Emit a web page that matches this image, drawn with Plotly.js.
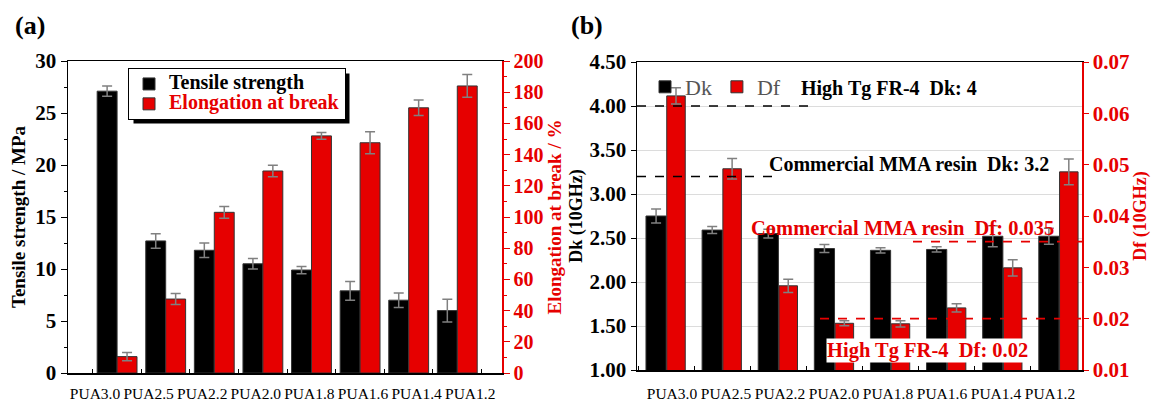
<!DOCTYPE html>
<html><head><meta charset="utf-8">
<script src="https://cdn.plot.ly/plotly-3.0.1.min.js"></script>
<style>html,body{margin:0;padding:0;background:#fff}#chart{width:1155px;height:401px}</style>
</head><body><div id="chart"></div>
<script>
const categories = ['PUA3.0','PUA2.5','PUA2.2','PUA2.0','PUA1.8','PUA1.6','PUA1.4','PUA1.2'];
const tensileStrength = [27.1, 12.7, 11.8, 10.5, 9.9, 7.9, 7.0, 6.0];
const tensileErr = [0.5, 0.7, 0.7, 0.5, 0.35, 0.9, 0.7, 1.1];
const elongation = [10.5, 47.4, 103, 129.5, 152, 147.6, 170, 184];
const elongationErr = [2.7, 3.5, 3.8, 3.7, 2.2, 7, 5, 7.3];
const dk = [2.75, 2.59, 2.55, 2.38, 2.36, 2.37, 2.52, 2.52];
const dkErr = [0.08, 0.04, 0.05, 0.045, 0.03, 0.03, 0.12, 0.09];
const df = [0.0634, 0.0492, 0.0264, 0.0191, 0.019, 0.0221, 0.0299, 0.0486];
const dfErr = [0.0016, 0.002, 0.0013, 0.0005, 0.0006, 0.0008, 0.0016, 0.0025];
const dkRefValues = [4.0, 3.2];
const dkRefLabels = ['High Tg FR-4\u00a0\u00a0Dk: 4', 'Commercial MMA resin\u00a0\u00a0Dk: 3.2'];
const dfRefValues = [0.035, 0.02];
const dfRefLabels = ['Commercial MMA resin\u00a0\u00a0Df: 0.035', 'High Tg FR-4\u00a0\u00a0Df: 0.02'];
const panelLabels = ['(a)', '(b)'];
const seriesNamesA = ['Tensile strength', 'Elongation at break'];
const seriesNamesB = ['Dk', 'Df'];

const W = 1155, H = 401;
const px = x => x / W, py = y => 1 - y / H;
const SERIF = 'Liberation Serif';
const RED = '#e60000';
const idx = categories.map((_, i) => i);
const bounds = [-0.5, 0.5, 1.5, 2.5, 3.5, 4.5, 5.5, 6.5, 7.5];

function errBar(arr) {
  return {type: 'data', array: arr, visible: true, color: '#808080', thickness: 1.5, width: 5};
}
const legendName = (txt, color) => '<span style="font-size:20px;color:' + color + '">' + txt + '</span>';

const traces = [
  {type: 'bar', x: idx, y: tensileStrength, xaxis: 'x', yaxis: 'y', width: 0.41, offset: -0.41,
   marker: {color: '#000', line: {color: '#333', width: 1}}, error_y: errBar(tensileErr),
   name: legendName(seriesNamesA[0], '#000'), legend: 'legend'},
  {type: 'bar', x: idx, y: elongation, xaxis: 'x', yaxis: 'y2', width: 0.41, offset: 0,
   marker: {color: RED, line: {color: '#333', width: 1}}, error_y: errBar(elongationErr),
   name: legendName(seriesNamesA[1], RED), legend: 'legend'},
  {type: 'bar', x: idx, y: dk, xaxis: 'x2', yaxis: 'y3', width: 0.36, offset: -0.36,
   marker: {color: '#000', line: {color: '#333', width: 1}}, error_y: errBar(dkErr),
   name: seriesNamesB[0], legend: 'legend2'},
  {type: 'bar', x: idx, y: df, xaxis: 'x2', yaxis: 'y4', width: 0.33, offset: 0.01,
   marker: {color: RED, line: {color: '#333', width: 1}}, error_y: errBar(dfErr),
   name: seriesNamesB[1], legend: 'legend2'},
  {type: 'scatter', x: [], y: [], xaxis: 'x3', yaxis: 'y', showlegend: false, hoverinfo: 'skip'},
  {type: 'scatter', x: [], y: [], xaxis: 'x4', yaxis: 'y3', showlegend: false, hoverinfo: 'skip'}
];

const tickBold = (size, color) => ({family: SERIF, size: size, color: color, weight: 'bold'});

const layout = {
  width: W, height: H,
  margin: {l: 0, r: 0, t: 0, b: 0},
  paper_bgcolor: '#fff', plot_bgcolor: 'rgba(0,0,0,0)',
  showlegend: true, barmode: 'group',
  font: {family: SERIF, color: '#000'},
  xaxis: {domain: [px(68), px(502)], anchor: 'y', range: [-1.01, 7.92],
    tickmode: 'array', tickvals: bounds, showticklabels: false, ticks: 'inside', ticklen: 4,
    tickcolor: '#000', showline: true, mirror: true, linecolor: '#000', linewidth: 1.5,
    showgrid: false, zeroline: false},
  xaxis3: {domain: [px(68), px(502)], anchor: 'y', overlaying: 'x', range: [-0.504, 7.593],
    tickmode: 'array', tickvals: idx, ticktext: categories, ticks: '', ticklabelstandoff: 9, tickangle: 0,
    tickfont: {family: SERIF, size: 15.5, color: '#000'}, showline: false, showgrid: false, zeroline: false},
  yaxis: {domain: [py(373), py(61)], anchor: 'x', range: [0, 30], dtick: 5, ticks: 'outside', ticklen: 6,
    tickcolor: '#000', showline: true, linecolor: '#000', linewidth: 1.5, showgrid: false, zeroline: false,
    minor: {dtick: 2.5, ticks: 'outside', ticklen: 3, tickcolor: '#000'},
    tickfont: tickBold(21, '#000'),
    title: {text: 'Tensile strength / MPa', font: tickBold(19, '#000'), standoff: 4}},
  yaxis2: {overlaying: 'y', side: 'right', anchor: 'x', range: [0, 200], dtick: 20, ticks: 'outside', ticklen: 6,
    tickcolor: RED, showline: true, linecolor: RED, linewidth: 1.5, showgrid: false, zeroline: false,
    minor: {dtick: 10, ticks: 'outside', ticklen: 3, tickcolor: RED},
    tickfont: tickBold(20, RED),
    title: {text: 'Elongation at break / %', font: tickBold(19, RED), standoff: 2}},
  xaxis2: {domain: [px(637), px(1082)], anchor: 'y3', range: [-0.52, 7.41],
    tickmode: 'array', tickvals: bounds, showticklabels: false, ticks: 'inside', ticklen: 4,
    tickcolor: '#000', showline: true, mirror: true, linecolor: '#000', linewidth: 1.5,
    showgrid: false, zeroline: false},
  xaxis4: {domain: [px(637), px(1082)], anchor: 'y3', overlaying: 'x2', range: [-0.648, 7.593],
    tickmode: 'array', tickvals: idx, ticktext: categories, ticks: '', ticklabelstandoff: 12, tickangle: 0,
    tickfont: {family: SERIF, size: 15.5, color: '#000'}, showline: false, showgrid: false, zeroline: false},
  yaxis3: {domain: [py(370), py(62)], anchor: 'x2', range: [1, 4.5], dtick: 0.5, tickformat: '.2f',
    ticks: 'outside', ticklen: 5, tickcolor: '#000', showline: true, linecolor: '#000', linewidth: 1.5,
    showgrid: true, gridcolor: '#dcdcdc', gridwidth: 1, zeroline: false,
    tickfont: tickBold(21, '#000'),
    title: {text: 'Dk (10GHz)', font: tickBold(18, '#000'), standoff: 2}},
  yaxis4: {overlaying: 'y3', side: 'right', anchor: 'x2', range: [0.01, 0.07], dtick: 0.01, tickformat: '.2f',
    ticks: 'outside', ticklen: 5, tickcolor: RED, showline: true, linecolor: RED, linewidth: 1.5,
    showgrid: false, zeroline: false,
    tickfont: tickBold(21, RED),
    title: {text: 'Df (10GHz)', font: tickBold(18, RED), standoff: 4}},
  legend: {x: px(128), y: py(68), xanchor: 'left', yanchor: 'top', bgcolor: '#fff',
    bordercolor: '#000', borderwidth: 1, font: {family: SERIF, size: 13, color: '#000', weight: 'bold'},
    tracegroupgap: 0, itemwidth: 30},
  legend2: {x: px(645), y: py(66), xanchor: 'left', yanchor: 'top', orientation: 'h', bgcolor: 'rgba(0,0,0,0)',
    font: {family: SERIF, size: 22, color: '#555'}, itemwidth: 30},
  shapes: [
    {type: 'rect', xref: 'paper', yref: 'paper', x0: px(133), x1: px(355), y0: py(123), y1: py(73),
      fillcolor: '#000', line: {width: 0}, layer: 'below'},
    {type: 'line', xref: 'paper', yref: 'y3', x0: px(637), x1: px(812), y0: dkRefValues[0], y1: dkRefValues[0],
      line: {color: '#000', width: 1.5, dash: 'dash'}},
    {type: 'line', xref: 'paper', yref: 'y3', x0: px(637), x1: px(780), y0: dkRefValues[1], y1: dkRefValues[1],
      line: {color: '#000', width: 1.5, dash: 'dash'}},
    {type: 'line', xref: 'paper', yref: 'y4', x0: px(913), x1: px(1082), y0: dfRefValues[0], y1: dfRefValues[0],
      line: {color: RED, width: 1.8, dash: 'dash'}},
    {type: 'line', xref: 'paper', yref: 'y4', x0: px(820), x1: px(1082), y0: dfRefValues[1], y1: dfRefValues[1],
      line: {color: RED, width: 1.8, dash: 'dash'}}
  ],
  annotations: [
    {xref: 'paper', yref: 'paper', x: px(13), y: py(26), xanchor: 'left', yanchor: 'middle', showarrow: false,
      text: panelLabels[0], font: tickBold(26, '#000')},
    {xref: 'paper', yref: 'paper', x: px(569), y: py(26), xanchor: 'left', yanchor: 'middle', showarrow: false,
      text: panelLabels[1], font: tickBold(26, '#000')},
    {xref: 'paper', yref: 'y3', x: px(799), y: dkRefValues[0], xanchor: 'left', yanchor: 'bottom', yshift: 4,
      showarrow: false, text: dkRefLabels[0], font: tickBold(20, '#000')},
    {xref: 'paper', yref: 'y3', x: px(767), y: dkRefValues[1], xanchor: 'left', yanchor: 'bottom', yshift: -1,
      showarrow: false, text: dkRefLabels[1], font: tickBold(20, '#000')},
    {xref: 'paper', yref: 'y4', x: px(749), y: dfRefValues[0], xanchor: 'left', yanchor: 'bottom', yshift: 1,
      showarrow: false, text: dfRefLabels[0], font: tickBold(20.5, RED)},
    {xref: 'paper', yref: 'y4', x: px(826), y: dfRefValues[1], xanchor: 'left', yanchor: 'top', yshift: -19,
      showarrow: false, text: dfRefLabels[1], font: tickBold(20.5, RED), bgcolor: '#fff', borderpad: 0}
  ]
};

Plotly.newPlot('chart', traces, layout, {displayModeBar: false, staticPlot: true}).then(gd => {
  // place the legend drop-shadow right behind the drawn legend box
  const bg = gd.querySelector('g.legend rect.bg');
  if (!bg) return;
  const r = bg.getBoundingClientRect();
  const root = gd.getBoundingClientRect();
  const x0 = r.left - root.left + 5, x1 = r.right - root.left + 4;
  const y0 = r.top - root.top + 5, y1 = r.bottom - root.top + 4;
  return Plotly.relayout(gd, {
    'shapes[0].x0': px(x0), 'shapes[0].x1': px(x1),
    'shapes[0].y0': py(y1), 'shapes[0].y1': py(y0),
    'shapes[0].layer': 'above'
  });
});
</script>
</body></html>
